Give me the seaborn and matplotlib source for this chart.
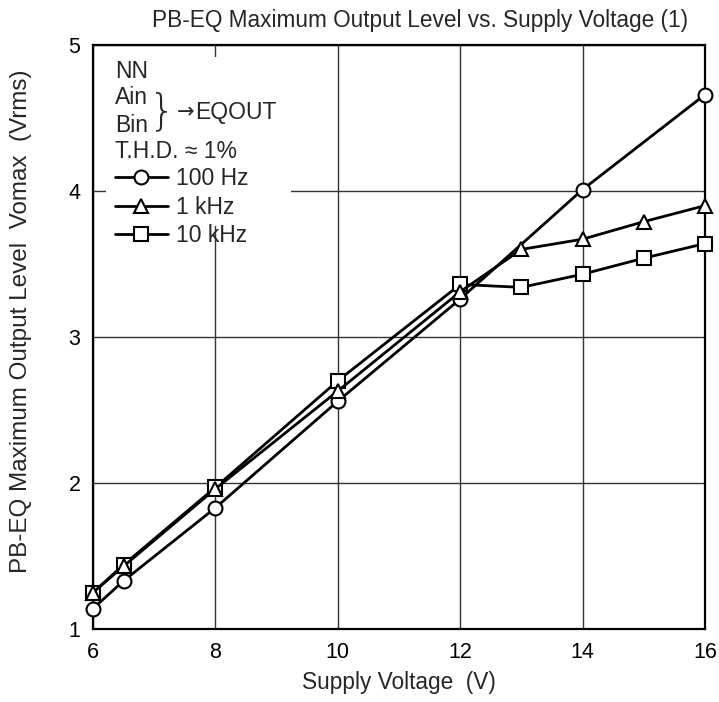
import matplotlib
matplotlib.use("Agg")
import matplotlib.pyplot as plt
import seaborn as sns
import pandas as pd
from matplotlib.patches import Rectangle
from matplotlib.lines import Line2D

sns.set_theme(style="white")
plt.rcParams['font.family'] = ['Liberation Sans', 'DejaVu Sans']

v_100 = [6, 6.5, 8, 10, 12, 14, 16]
y_100 = [1.14, 1.33, 1.83, 2.56, 3.26, 4.01, 4.66]
v_1k = [6, 6.5, 8, 10, 12, 13, 14, 15, 16]
y_1k = [1.25, 1.43, 1.96, 2.63, 3.31, 3.60, 3.67, 3.79, 3.90]
v_10k = [6, 6.5, 8, 10, 12, 13, 14, 15, 16]
y_10k = [1.25, 1.44, 1.97, 2.70, 3.36, 3.34, 3.43, 3.54, 3.64]
labels = ["100 Hz", "1 kHz", "10 kHz"]
markers = ["o", "^", "s"]

title = "PB-EQ Maximum Output Level vs. Supply Voltage (1)"
xlabel = "Supply Voltage  (V)"
ylabel = "PB-EQ Maximum Output Level  Vomax  (Vrms)"
xticks = [6, 8, 10, 12, 14, 16]
yticks = [1, 2, 3, 4, 5]

W, H = 719, 702
fig = plt.figure(figsize=(W/100, H/100), dpi=100)
L, R, T, B = 93, 705, 45, 629
ax = fig.add_axes([L/W, 1-B/H, (R-L)/W, (B-T)/H])

series = [(v_10k, y_10k, "s", 9.5), (v_100, y_100, "o", 10), (v_1k, y_1k, "^", 10)]
for i, (xs, ys, m, ms) in enumerate(series):
    df = pd.DataFrame({"x": xs, "y": ys})
    sns.lineplot(data=df, x="x", y="y", ax=ax, color="black", lw=2,
                 marker=m, markersize=ms, markerfacecolor="white",
                 markeredgecolor="black", markeredgewidth=1.5, zorder=5+i,
                 clip_on=False)

ax.set_xlim(6, 16)
ax.set_ylim(1, 5)
ax.set_xticks(xticks)
ax.set_yticks(yticks)
ax.tick_params(length=0, labelsize=15.5, colors="black")
ax.tick_params(axis="x", pad=9)
ax.tick_params(axis="y", pad=9)
ax.grid(True, color="#333333", lw=1)
for s in ax.spines.values():
    s.set_color("black"); s.set_linewidth(1.6)
    s.set_zorder(4)
ax.set_xlabel("")
ax.set_ylabel("")
fig.text(420/W, 1-20/H, title, fontsize=16.3, ha="center", va="center")
fig.text(399/W, 1-683/H, xlabel, fontsize=16.3, ha="center", va="center")
fig.text(21/W, 1-321/H, ylabel, fontsize=17.5, ha="center", va="center", rotation=90)

def ax_xy(px, py):
    return ((px-L)/(R-L), (B-py)/(B-T))

# legend region (white box hiding grid)
x0, y0 = ax_xy(106, 226)
x1, y1 = ax_xy(291, 57)
ax.add_patch(Rectangle((x0, y0), x1-x0, y1-y0, transform=ax.transAxes,
                       facecolor="white", edgecolor="none", zorder=3))
fs = 16.5
for txt, py in [("NN", 72), ("Ain", 98), ("Bin", 125), ("T.H.D. \u2248 1%", 152)]:
    ax.text(*ax_xy(115, py), txt, transform=ax.transAxes, fontsize=fs,
            va="center", ha="left", zorder=4)
ax.text(*ax_xy(175, 112), "}", transform=ax.transAxes, fontsize=30, va="center", ha="right",
        zorder=4, family=["DejaVu Sans"], fontweight=200)
ax.text(*ax_xy(177, 112), "\u2192", transform=ax.transAxes, fontsize=15, va="center",
        ha="left", zorder=4, family=["DejaVu Sans"])
ax.text(*ax_xy(195, 112), "EQOUT", transform=ax.transAxes, fontsize=fs,
        va="center", ha="left", zorder=4)
handles = [Line2D([], [], color="black", lw=2, marker=m, markersize=10, markerfacecolor="white",
                  markeredgecolor="black", markeredgewidth=1.5) for m in markers]
leg = ax.legend(handles, labels, loc="upper left", bbox_to_anchor=ax_xy(115, 167),
                frameon=False, fontsize=fs, handlelength=2.3, handletextpad=0.35,
                labelspacing=0.25, borderpad=0, borderaxespad=0)
leg.set_zorder(6)

fig.savefig("out.png", dpi=100)
